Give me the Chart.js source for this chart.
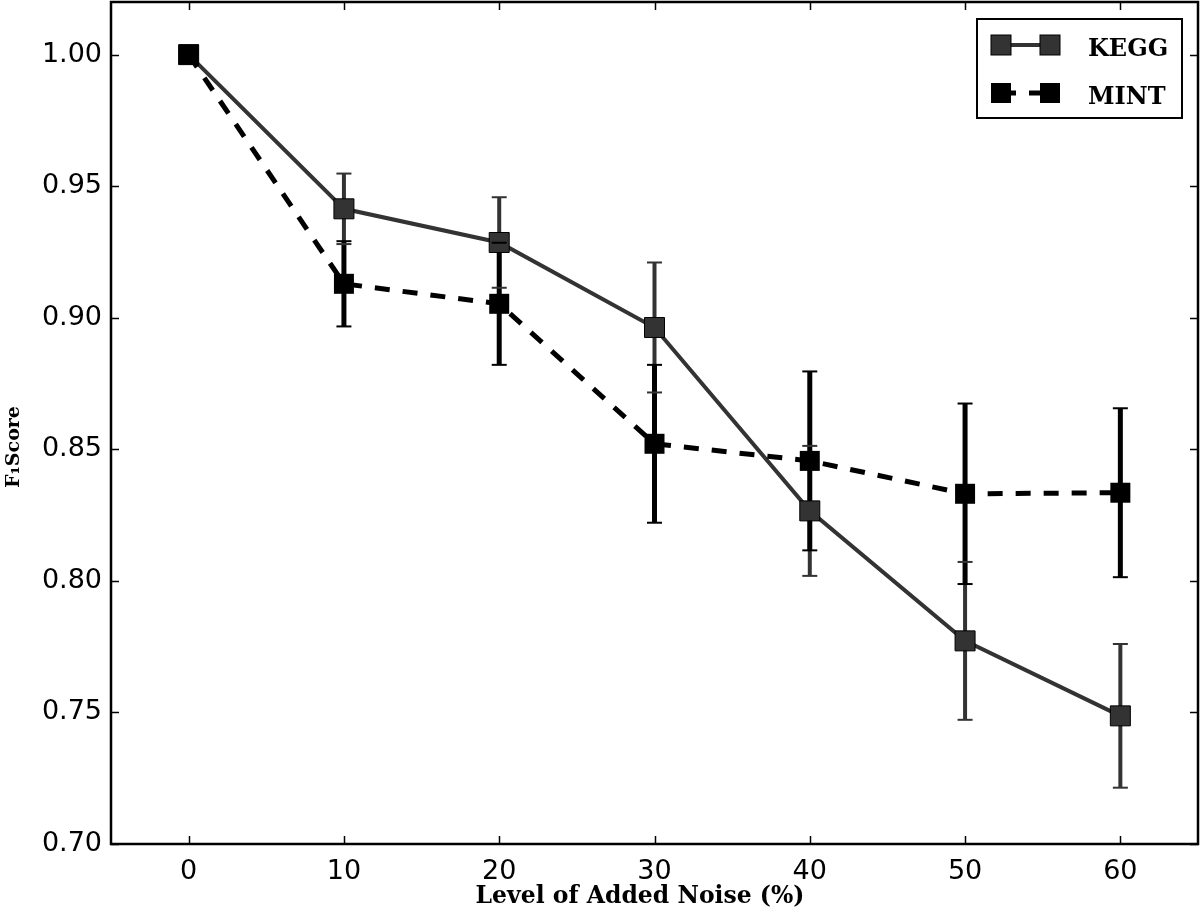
<!DOCTYPE html>
<html><head><meta charset="utf-8">
<script src="https://cdn.jsdelivr.net/npm/chart.js@4.4.1/dist/chart.umd.min.js"></script>
<style>html,body{margin:0;padding:0;background:#fff}#wrap{width:1200px;height:915px;position:relative}canvas{display:block}</style>
</head><body><div id="wrap"><canvas id="c" width="1200" height="915" style="width:1200px;height:915px"></canvas></div>
<script>
const noiseLevels = [0, 10, 20, 30, 40, 50, 60];
const keggF1 = [1.000, 0.9414, 0.9286, 0.8963, 0.8266, 0.7772, 0.7487];
const keggErr = [0, 0.0134, 0.0172, 0.0247, 0.0247, 0.0300, 0.0273];
const mintF1 = [1.000, 0.9129, 0.9053, 0.8521, 0.8456, 0.8331, 0.8335];
const mintErr = [0, 0.0162, 0.0232, 0.0300, 0.0340, 0.0343, 0.0321];
const xTicks = [0, 10, 20, 30, 40, 50, 60];
const yTicks = [0.70, 0.75, 0.80, 0.85, 0.90, 0.95, 1.00];
const seriesNames = ['KEGG', 'MINT'];
const xTitle = 'Level of Added Noise (%)';
const yTitle = 'F₁Score';

const KEGG_COLOR = '#333333';
const MINT_COLOR = '#000000';
const MINT_DASH = [15, 13];

const errSeries = [
  {vals: keggF1, err: keggErr, color: KEGG_COLOR, width: 4},
  {vals: mintF1, err: mintErr, color: MINT_COLOR, width: 5}
];

const errorBarPlugin = {
  id: 'errbars',
  beforeDatasetsDraw(chart) {
    const {ctx, scales: {x, y}} = chart;
    ctx.save();
    errSeries.forEach(s => {
      ctx.strokeStyle = s.color; ctx.lineWidth = s.width; ctx.lineCap = 'butt';
      s.vals.forEach((v, i) => {
        if (!s.err[i]) return;
        const px = x.getPixelForValue(noiseLevels[i]);
        ctx.beginPath();
        ctx.moveTo(px, y.getPixelForValue(v + s.err[i]));
        ctx.lineTo(px, y.getPixelForValue(v - s.err[i]));
        ctx.stroke();
      });
    });
    ctx.restore();
  },
  afterDatasetsDraw(chart) {
    const {ctx, scales: {x, y}} = chart;
    ctx.save();
    errSeries.forEach(s => {
      ctx.strokeStyle = s.color; ctx.lineWidth = 2;
      s.vals.forEach((v, i) => {
        if (!s.err[i]) return;
        const px = x.getPixelForValue(noiseLevels[i]);
        [v + s.err[i], v - s.err[i]].forEach(val => {
          const py = y.getPixelForValue(val);
          ctx.beginPath(); ctx.moveTo(px - 7.5, py); ctx.lineTo(px + 7.5, py); ctx.stroke();
        });
      });
    });
    ctx.restore();
  }
};

const framePlugin = {
  id: 'frame',
  afterDraw(chart) {
    const {ctx, chartArea: a, scales: {x, y}} = chart;
    ctx.save();
    ctx.strokeStyle = '#000'; ctx.lineWidth = 1.5;
    xTicks.forEach(t => {
      const px = Math.round(x.getPixelForValue(t)) + 0.5;
      ctx.beginPath(); ctx.moveTo(px, a.bottom); ctx.lineTo(px, a.bottom - 8); ctx.stroke();
      ctx.beginPath(); ctx.moveTo(px, a.top); ctx.lineTo(px, a.top + 8); ctx.stroke();
    });
    yTicks.forEach(t => {
      const py = Math.round(y.getPixelForValue(t)) + 0.5;
      ctx.beginPath(); ctx.moveTo(a.left, py); ctx.lineTo(a.left + 8, py); ctx.stroke();
      ctx.beginPath(); ctx.moveTo(a.right, py); ctx.lineTo(a.right - 8, py); ctx.stroke();
    });
    ctx.lineWidth = 2.5;
    ctx.strokeRect(a.left, a.top, a.right - a.left, a.bottom - a.top);

    // axis titles
    ctx.fillStyle = '#000';
    ctx.textAlign = 'center'; ctx.textBaseline = 'middle';
    ctx.font = 'bold 23.5px "DejaVu Serif"';
    ctx.fillText(xTitle, 640, 897);
    ctx.save();
    ctx.translate(14, 447);
    ctx.rotate(-Math.PI / 2);
    ctx.font = 'bold 19px "DejaVu Serif"';
    ctx.fillText(yTitle, 0, 0);
    ctx.restore();

    // legend
    const bx = 977, by = 19, bw = 205, bh = 99;
    ctx.fillStyle = '#fff';
    ctx.fillRect(bx, by, bw, bh);
    ctx.lineWidth = 2;
    ctx.strokeRect(bx, by, bw, bh);
    const rows = [
      {name: seriesNames[0], color: KEGG_COLOR, lw: 4, dash: [], y: 45, edge: true},
      {name: seriesNames[1], color: MINT_COLOR, lw: 5, dash: MINT_DASH, y: 93, edge: false}
    ];
    rows.forEach(r => {
      ctx.save();
      ctx.strokeStyle = r.color; ctx.lineWidth = r.lw; ctx.setLineDash(r.dash);
      ctx.beginPath(); ctx.moveTo(1001, r.y); ctx.lineTo(1050, r.y); ctx.stroke();
      ctx.restore();
      [1001, 1050].forEach(cx => {
        ctx.fillStyle = r.color;
        ctx.fillRect(cx - 10, r.y - 10, 20, 20);
        if (r.edge) { ctx.lineWidth = 1; ctx.strokeStyle = '#000'; ctx.strokeRect(cx - 10, r.y - 10, 20, 20); }
      });
      ctx.fillStyle = '#000';
      ctx.font = 'bold 24px "DejaVu Serif"';
      ctx.textBaseline = 'middle'; ctx.textAlign = 'left';
      ctx.fillText(r.name, 1088, r.y + 5);
    });
    ctx.restore();
  }
};

function zeroPad(s) { s.paddingTop = 0; s.paddingBottom = 0; s.paddingLeft = 0; s.paddingRight = 0; }

new Chart(document.getElementById('c'), {
  type: 'line',
  data: {
    datasets: [
      {
        label: seriesNames[1],
        data: noiseLevels.map((n, i) => ({x: n, y: mintF1[i]})),
        borderColor: MINT_COLOR, borderWidth: 5, borderDash: MINT_DASH,
        pointStyle: 'rect', pointRadius: 14.14, pointBackgroundColor: MINT_COLOR,
        pointBorderColor: MINT_COLOR, pointBorderWidth: 0, tension: 0, order: 0, clip: false
      },
      {
        label: seriesNames[0],
        data: noiseLevels.map((n, i) => ({x: n, y: keggF1[i]})),
        borderColor: KEGG_COLOR, borderWidth: 4,
        pointStyle: 'rect', pointRadius: 14.14, pointBackgroundColor: KEGG_COLOR,
        pointBorderColor: '#000', pointBorderWidth: 1, tension: 0, order: 1, clip: false
      }
    ]
  },
  options: {
    responsive: false,
    animation: false,
    devicePixelRatio: 1,
    layout: {autoPadding: false, padding: {top: 2, right: 2, left: 0, bottom: 0}},
    plugins: {legend: {display: false}, tooltip: {enabled: false}},
    scales: {
      x: {
        type: 'linear', min: -5, max: 65,
        grid: {display: false, drawTicks: false}, border: {display: false},
        afterBuildTicks: s => { s.ticks = xTicks.map(v => ({value: v})); },
        afterFit: s => { s.height = 71; zeroPad(s); },
        ticks: {autoSkip: false, maxRotation: 0, padding: 12, color: '#000', font: {family: 'DejaVu Sans', size: 27}, callback: v => String(v)},
        title: {display: false}
      },
      y: {
        type: 'linear', min: 0.70, max: 1.02,
        grid: {display: false, drawTicks: false}, border: {display: false},
        afterBuildTicks: s => { s.ticks = yTicks.map(v => ({value: v})); },
        afterFit: s => { s.width = 111; zeroPad(s); },
        ticks: {autoSkip: false, padding: 9, color: '#000', font: {family: 'DejaVu Sans', size: 27}, callback: v => Number(v).toFixed(2)},
        title: {display: false}
      }
    }
  },
  plugins: [errorBarPlugin, framePlugin]
});
</script></body></html>
